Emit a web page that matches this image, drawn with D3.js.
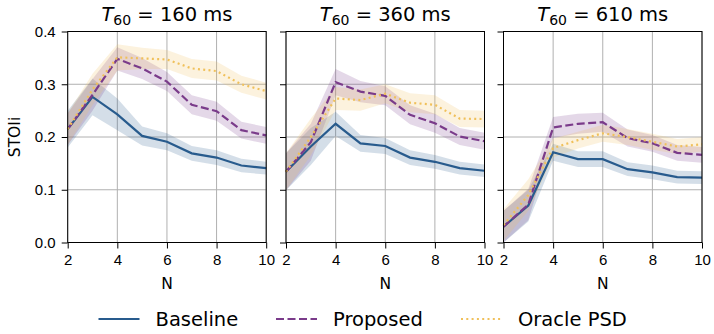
<!DOCTYPE html>
<html>
<head>
<meta charset="utf-8">
<script src="https://cdn.jsdelivr.net/npm/d3@7"></script>
<style>
  body { margin: 0; background: #fff; }
  svg { font-family: "DejaVu Sans", sans-serif; }
  .grid line { stroke: #b0b0b0; stroke-width: 1; }
  .axis path, .axis line { stroke: #000; stroke-width: 1; }
  .axis text { font-size: 15px; fill: #000; }
</style>
</head>
<body>
<svg id="chart" width="714" height="334"></svg>
<script>
// number of microphones / N on the x axis
const nValues = [2, 3, 4, 5, 6, 7, 8, 9, 10];
const yTicks = [0.0, 0.1, 0.2, 0.3, 0.4];
const xTicks = [2, 4, 6, 8, 10];
const reverbTimes = ["160", "360", "610"];
const seriesNames = ["Baseline", "Proposed", "Oracle PSD"];

// T60 = 160 ms
const baseline160 = [0.215, 0.276, 0.243, 0.202, 0.191, 0.169, 0.161, 0.146, 0.141];
const proposed160 = [0.215, 0.280, 0.348, 0.330, 0.305, 0.261, 0.249, 0.213, 0.203];
const oracle160   = [0.215, 0.290, 0.351, 0.349, 0.347, 0.330, 0.325, 0.300, 0.287];
const baseline160Err = [0.035, 0.035, 0.030, 0.018, 0.016, 0.014, 0.014, 0.013, 0.012];
const proposed160Err = [0.030, 0.030, 0.022, 0.020, 0.018, 0.018, 0.018, 0.016, 0.016];
const oracle160Err   = [0.030, 0.030, 0.025, 0.020, 0.018, 0.018, 0.018, 0.016, 0.016];

// T60 = 360 ms
const baseline360 = [0.134, 0.182, 0.225, 0.188, 0.183, 0.161, 0.153, 0.141, 0.136];
const proposed360 = [0.134, 0.190, 0.304, 0.286, 0.278, 0.242, 0.226, 0.201, 0.192];
const oracle360   = [0.134, 0.200, 0.273, 0.270, 0.282, 0.265, 0.261, 0.235, 0.234];
const baseline360Err = [0.035, 0.035, 0.023, 0.016, 0.015, 0.014, 0.013, 0.012, 0.012];
const proposed360Err = [0.035, 0.035, 0.025, 0.020, 0.018, 0.018, 0.018, 0.016, 0.016];
const oracle360Err   = [0.035, 0.035, 0.022, 0.020, 0.018, 0.018, 0.018, 0.016, 0.016];

// T60 = 610 ms
const baseline610 = [0.030, 0.070, 0.171, 0.158, 0.158, 0.139, 0.133, 0.124, 0.123];
const proposed610 = [0.030, 0.072, 0.218, 0.225, 0.228, 0.198, 0.188, 0.170, 0.166];
const oracle610   = [0.033, 0.090, 0.179, 0.194, 0.207, 0.200, 0.191, 0.182, 0.186];
const baseline610Err = [0.030, 0.030, 0.016, 0.015, 0.015, 0.013, 0.013, 0.012, 0.012];
const proposed610Err = [0.030, 0.030, 0.020, 0.019, 0.018, 0.016, 0.016, 0.015, 0.015];
const oracle610Err   = [0.030, 0.030, 0.018, 0.016, 0.016, 0.015, 0.015, 0.014, 0.014];

const panels = [
  { t60: reverbTimes[0], series: [[baseline160, baseline160Err], [proposed160, proposed160Err], [oracle160, oracle160Err]] },
  { t60: reverbTimes[1], series: [[baseline360, baseline360Err], [proposed360, proposed360Err], [oracle360, oracle360Err]] },
  { t60: reverbTimes[2], series: [[baseline610, baseline610Err], [proposed610, proposed610Err], [oracle610, oracle610Err]] }
];

const colors = ["#285b8d", "#7a3b8a", "#f0c05a"];
const dashes = [null, "8,3.5", "2,3.3"];

const svg = d3.select("#chart");
const panelLeft = [67.7, 286, 503.5];
const panelWidth = 198.5;
const plotTop = 31.5, plotBottom = 242.5;

const y = d3.scaleLinear().domain([0, 0.4]).range([plotBottom, plotTop]);

panels.forEach(function(p, i) {
  const x = d3.scaleLinear().domain([2, 10]).range([panelLeft[i], panelLeft[i] + panelWidth]);
  const g = svg.append("g");

  // grid
  const grid = g.append("g").attr("class", "grid");
  grid.selectAll(".gx").data(xTicks).enter().append("line")
    .attr("x1", d => x(d)).attr("x2", d => x(d))
    .attr("y1", plotTop).attr("y2", plotBottom);
  grid.selectAll(".gy").data(yTicks).enter().append("line")
    .attr("x1", x(2)).attr("x2", x(10))
    .attr("y1", d => y(d)).attr("y2", d => y(d));

  // shaded bands
  p.series.forEach(function(s, k) {
    const area = d3.area()
      .x((d, j) => x(nValues[j]))
      .y0((d, j) => y(d - s[1][j]))
      .y1((d, j) => y(d + s[1][j]));
    g.append("path").datum(s[0])
      .attr("d", area)
      .attr("fill", colors[k])
      .attr("fill-opacity", 0.2)
      .attr("stroke", "none");
  });

  // lines
  p.series.forEach(function(s, k) {
    const line = d3.line().x((d, j) => x(nValues[j])).y(d => y(d));
    g.append("path").datum(s[0])
      .attr("d", line)
      .attr("fill", "none")
      .attr("stroke", colors[k])
      .attr("stroke-width", 2.2)
      .attr("stroke-dasharray", dashes[k]);
  });

  // frame
  g.append("rect")
    .attr("x", x(2)).attr("y", plotTop)
    .attr("width", panelWidth).attr("height", plotBottom - plotTop)
    .attr("fill", "none").attr("stroke", "#000").attr("stroke-width", 1);

  // axes
  g.append("g").attr("class", "axis")
    .attr("transform", "translate(0," + plotBottom + ")")
    .call(d3.axisBottom(x).tickValues(xTicks).tickSize(6).tickPadding(6).tickFormat(d3.format("d")))
    .call(a => a.select(".domain").remove());
  const yAxis = d3.axisLeft(y).tickValues(yTicks).tickSize(6).tickPadding(6).tickFormat(d3.format(".1f"));
  if (i > 0) yAxis.tickFormat("");
  g.append("g").attr("class", "axis")
    .attr("transform", "translate(" + x(2) + ",0)")
    .call(yAxis)
    .call(a => a.select(".domain").remove());

  // x label
  g.append("text")
    .attr("x", x(6)).attr("y", 289)
    .attr("text-anchor", "middle")
    .attr("font-size", 15.5)
    .text("N");

  // title
  const title = g.append("text")
    .attr("x", x(6)).attr("y", 21)
    .attr("text-anchor", "middle")
    .attr("font-size", 19.5);
  title.append("tspan").attr("font-style", "italic").text("T");
  title.append("tspan").attr("font-size", 14).attr("dy", 4).text("60");
  title.append("tspan").attr("dy", -4).text(" = " + p.t60 + " ms");
});

// y label
svg.append("text")
  .attr("transform", "translate(20," + y(0.2) + ") rotate(-90)")
  .attr("text-anchor", "middle")
  .attr("font-size", 15.5)
  .text("STOIi");

// legend
const legendX = [98.5, 276, 461];
const legend = svg.append("g");
seriesNames.forEach(function(name, k) {
  legend.append("line")
    .attr("x1", legendX[k]).attr("x2", legendX[k] + 41)
    .attr("y1", 319).attr("y2", 319)
    .attr("stroke", colors[k])
    .attr("stroke-width", 2.2)
    .attr("stroke-dasharray", dashes[k]);
  legend.append("text")
    .attr("x", legendX[k] + 57).attr("y", 326)
    .attr("font-size", 19.5)
    .text(name);
});
</script>
</body>
</html>
